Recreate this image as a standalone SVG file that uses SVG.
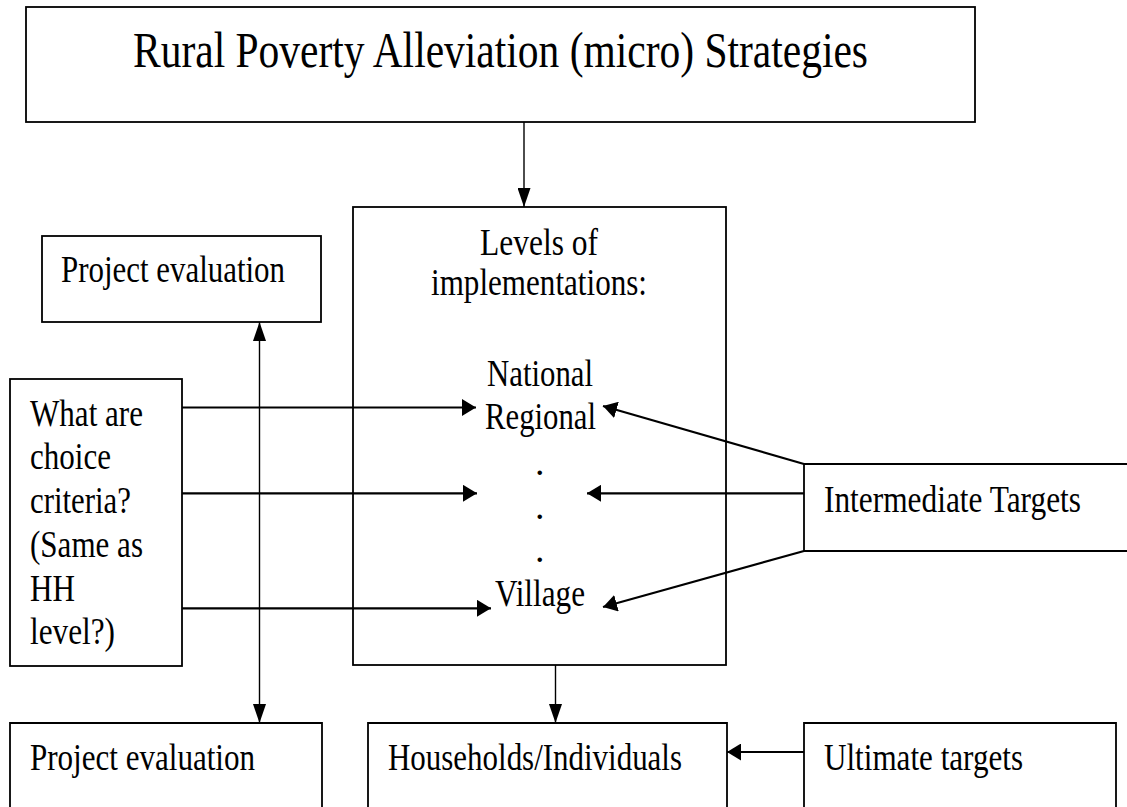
<svg xmlns="http://www.w3.org/2000/svg" width="1127" height="807" viewBox="0 0 1127 807">
<style>
  .box{fill:none;stroke:#000;stroke-width:1.8}
  .h{stroke:#000;stroke-width:2.2;fill:none}
  .v{stroke:#000;stroke-width:1.4;fill:none}
  text{font-family:"Liberation Serif","Times New Roman",serif;font-size:38px;fill:#000}
  .title{font-size:50px}
</style>
<defs>
  <marker id="ah" markerUnits="userSpaceOnUse" markerWidth="14" markerHeight="17" refX="14" refY="8.5" orient="auto">
    <path d="M0,0 L14,8.5 L0,17 z" fill="#000"/>
  </marker>
  <marker id="av" markerUnits="userSpaceOnUse" markerWidth="19" markerHeight="13" refX="19" refY="6.5" orient="auto-start-reverse">
    <path d="M0,0 L19,6.5 L0,13 z" fill="#000"/>
  </marker>
</defs>
<rect width="1127" height="807" fill="#fff"/>
<g id="title">
  <rect class="box" x="26" y="7" width="949" height="115"/>
  <text class="title" x="133" y="67" textLength="735" lengthAdjust="spacingAndGlyphs">Rural Poverty Alleviation (micro) Strategies</text>
</g>
<g id="levels">
  <rect class="box" x="353" y="207" width="373" height="458"/>
  <text x="480" y="255" textLength="118" lengthAdjust="spacingAndGlyphs">Levels of</text>
  <text x="431" y="295" textLength="216" lengthAdjust="spacingAndGlyphs">implementations:</text>
  <text x="487" y="386" textLength="106" lengthAdjust="spacingAndGlyphs">National</text>
  <text x="485" y="429" textLength="111" lengthAdjust="spacingAndGlyphs">Regional</text>
  <text x="535" y="475">.</text>
  <text x="535" y="519">.</text>
  <text x="535" y="562">.</text>
  <text x="495" y="606" textLength="90" lengthAdjust="spacingAndGlyphs">Village</text>
</g>
<g id="eval-top">
  <rect class="box" x="42" y="236" width="279" height="86"/>
  <text x="61" y="282" textLength="224" lengthAdjust="spacingAndGlyphs">Project evaluation</text>
</g>
<g id="criteria">
  <rect class="box" x="10" y="379" width="172" height="287"/>
  <text x="30" y="426" textLength="113" lengthAdjust="spacingAndGlyphs">What are</text>
  <text x="30" y="469" textLength="81" lengthAdjust="spacingAndGlyphs">choice</text>
  <text x="30" y="513" textLength="101" lengthAdjust="spacingAndGlyphs">criteria?</text>
  <text x="30" y="557" textLength="113" lengthAdjust="spacingAndGlyphs">(Same as</text>
  <text x="30" y="601" textLength="45" lengthAdjust="spacingAndGlyphs">HH</text>
  <text x="30" y="644" textLength="85" lengthAdjust="spacingAndGlyphs">level?)</text>
</g>
<g id="intermediate">
  <path class="box" d="M1127,464 H804 V551 H1127"/>
  <text x="824" y="512" textLength="257" lengthAdjust="spacingAndGlyphs">Intermediate Targets</text>
</g>
<g id="eval-bottom">
  <path class="box" d="M10,807 V723 H322 V807"/>
  <text x="30" y="770" textLength="225" lengthAdjust="spacingAndGlyphs">Project evaluation</text>
</g>
<g id="households">
  <path class="box" d="M368,807 V723 H727 V807"/>
  <text x="388" y="770" textLength="294" lengthAdjust="spacingAndGlyphs">Households/Individuals</text>
</g>
<g id="ultimate">
  <path class="box" d="M804,807 V723 H1116 V807"/>
  <text x="824" y="770" textLength="199" lengthAdjust="spacingAndGlyphs">Ultimate targets</text>
</g>
<g id="connectors">
  <line class="v" x1="524" y1="122" x2="524" y2="207" marker-end="url(#av)"/>
  <line class="v" x1="259.5" y1="322" x2="259.5" y2="723" marker-start="url(#av)" marker-end="url(#av)"/>
  <line class="v" x1="555.5" y1="665" x2="555.5" y2="723" marker-end="url(#av)"/>
  <line class="h" x1="182" y1="407.5" x2="476" y2="407.5" marker-end="url(#ah)"/>
  <line class="h" x1="182" y1="493.3" x2="477" y2="493.3" marker-end="url(#ah)"/>
  <line class="h" x1="182" y1="608.3" x2="491" y2="608.3" marker-end="url(#ah)"/>
  <line class="h" x1="804" y1="464" x2="603" y2="406" marker-end="url(#ah)"/>
  <line class="h" x1="804" y1="493.3" x2="587" y2="493.3" marker-end="url(#ah)"/>
  <line class="h" x1="804" y1="551" x2="603" y2="607" marker-end="url(#ah)"/>
  <line class="h" x1="804" y1="752" x2="727" y2="752" marker-end="url(#ah)"/>
</g>
</svg>
